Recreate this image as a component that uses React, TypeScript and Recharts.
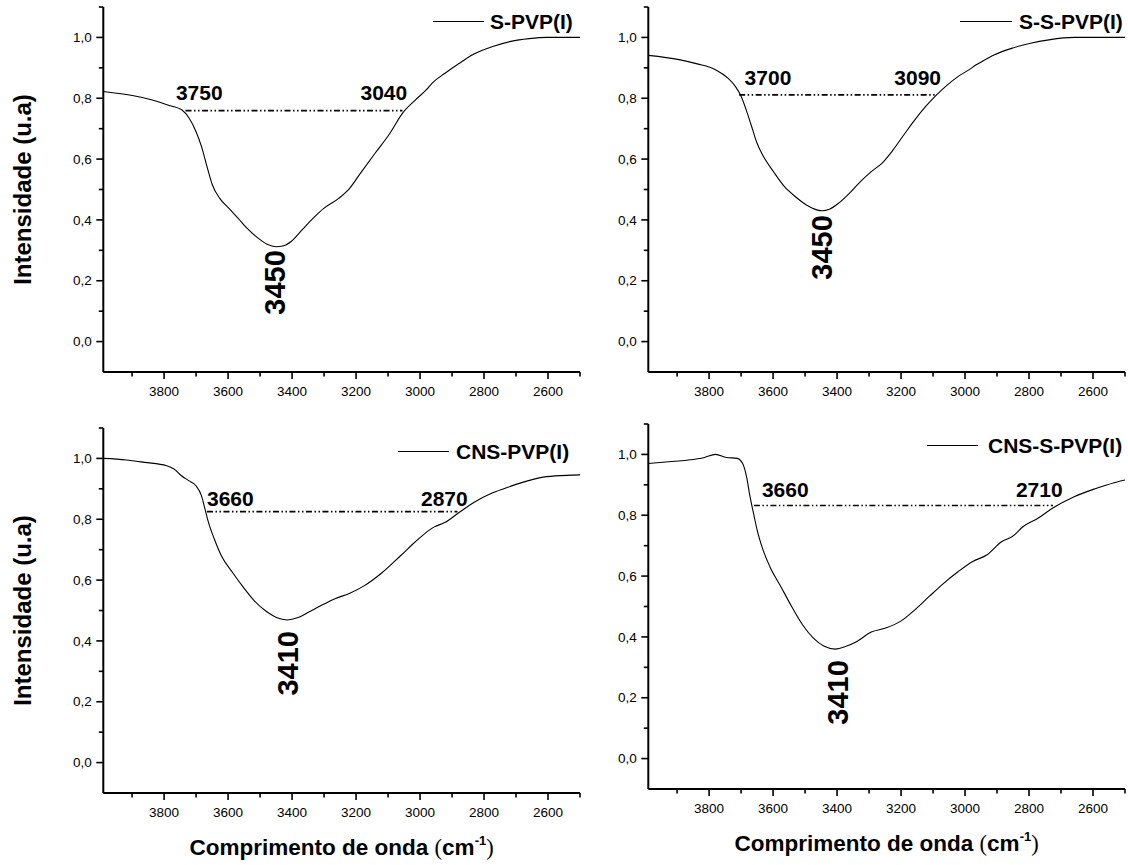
import React from 'react';
import { LineChart, Line, XAxis, YAxis, ReferenceLine, ReferenceDot, Legend } from 'recharts';

const FONT = '"Liberation Sans", Arial, Helvetica, sans-serif';
const SERIF = '"Liberation Serif", "Times New Roman", serif';

// axis ticks
const xTicks = [3900, 3800, 3700, 3600, 3500, 3400, 3300, 3200, 3100, 3000, 2900, 2800, 2700, 2600, 2500];
const yTicks = [0, 0.1, 0.2, 0.3, 0.4, 0.5, 0.6, 0.7, 0.8, 0.9, 1.0, 1.1];
const xDomain = [2500, 3990];
const yDomain = [-0.1, 1.1];

// S-PVP(I)
const sPvpX = [3990, 3895, 3840, 3780, 3745, 3722, 3700, 3683, 3666, 3649, 3626, 3598, 3569, 3541, 3506, 3478, 3450, 3426, 3403, 3369, 3334, 3300, 3254, 3220, 3186, 3140, 3094, 3054, 3014, 2980, 2962, 2922, 2877, 2830, 2773, 2716, 2659, 2602, 2500];
const sPvpY = [0.822, 0.808, 0.795, 0.775, 0.762, 0.735, 0.69, 0.641, 0.576, 0.515, 0.471, 0.439, 0.406, 0.373, 0.34, 0.32, 0.312, 0.315, 0.329, 0.367, 0.406, 0.439, 0.471, 0.504, 0.554, 0.62, 0.685, 0.752, 0.795, 0.828, 0.85, 0.882, 0.915, 0.946, 0.97, 0.987, 0.996, 1.0, 1.0];

// S-S-PVP(I)
const ssPvpX = [3990, 3894, 3837, 3780, 3741, 3718, 3701, 3684, 3667, 3650, 3633, 3599, 3565, 3531, 3497, 3463, 3446, 3424, 3395, 3361, 3327, 3293, 3259, 3225, 3191, 3157, 3123, 3089, 3055, 3021, 2987, 2965, 2955, 2908, 2851, 2795, 2738, 2659, 2500];
const ssPvpY = [0.941, 0.927, 0.913, 0.894, 0.866, 0.839, 0.809, 0.762, 0.707, 0.652, 0.614, 0.559, 0.51, 0.477, 0.45, 0.433, 0.43, 0.435, 0.455, 0.488, 0.526, 0.559, 0.587, 0.63, 0.68, 0.729, 0.773, 0.811, 0.844, 0.872, 0.894, 0.91, 0.916, 0.943, 0.965, 0.981, 0.992, 1.0, 1.0];

// CNS-PVP(I)
const cnsPvpX = [3990, 3918, 3861, 3792, 3769, 3746, 3723, 3701, 3683, 3672, 3661, 3643, 3621, 3586, 3552, 3518, 3483, 3449, 3415, 3381, 3346, 3312, 3266, 3221, 3175, 3118, 3061, 3005, 2970, 2955, 2923, 2878, 2832, 2775, 2718, 2661, 2604, 2525, 2500];
const cnsPvpY = [1.0, 0.995, 0.987, 0.976, 0.965, 0.943, 0.927, 0.911, 0.877, 0.833, 0.789, 0.735, 0.68, 0.625, 0.576, 0.532, 0.499, 0.477, 0.469, 0.477, 0.496, 0.515, 0.539, 0.556, 0.581, 0.625, 0.68, 0.735, 0.765, 0.775, 0.789, 0.822, 0.855, 0.886, 0.908, 0.927, 0.94, 0.945, 0.946];

// CNS-S-PVP(I)
const cnsSPvpX = [3990, 3927, 3870, 3814, 3780, 3746, 3712, 3695, 3683, 3672, 3661, 3650, 3633, 3610, 3576, 3542, 3508, 3474, 3440, 3406, 3372, 3338, 3293, 3248, 3202, 3157, 3112, 3066, 3021, 2976, 2931, 2886, 2852, 2818, 2772, 2727, 2659, 2591, 2534, 2500];
const cnsSPvpY = [0.97, 0.976, 0.981, 0.99, 1.0, 0.99, 0.987, 0.97, 0.927, 0.861, 0.806, 0.752, 0.691, 0.631, 0.566, 0.5, 0.44, 0.396, 0.369, 0.36, 0.369, 0.385, 0.416, 0.429, 0.451, 0.489, 0.533, 0.577, 0.615, 0.648, 0.67, 0.713, 0.73, 0.763, 0.79, 0.823, 0.861, 0.888, 0.907, 0.916];

// band annotations (wavenumber limits, level) and peak labels
const sPvpBand = { from: 3733, to: 3055, level: 0.759, left: '3750', leftAt: [3763, 0.795], right: '3040', rightAt: [3040, 0.795] };
const ssPvpBand = { from: 3706, to: 3089, level: 0.811, left: '3700', leftAt: [3689, 0.844], right: '3090', rightAt: [3075, 0.844] };
const cnsPvpBand = { from: 3666, to: 2883, level: 0.825, left: '3660', leftAt: [3666, 0.842], right: '2870', rightAt: [2851, 0.842] };
const cnsSPvpBand = { from: 3660, to: 2725, level: 0.832, left: '3660', leftAt: [3635, 0.859], right: '2710', rightAt: [2695, 0.859] };

const sPvpPeak = { text: '3450', x: 3455, y: 0.307 };
const ssPvpPeak = { text: '3450', x: 3449, y: 0.422 };
const cnsPvpPeak = { text: '3410', x: 3415, y: 0.439 };
const cnsSPvpPeak = { text: '3410', x: 3400, y: 0.33 };

const panels = [
  { id: 'tl', name: 'S-PVP(I)', xs: sPvpX, ys: sPvpY, band: sPvpBand, peak: sPvpPeak,
    ox: 0, oy: 0, w: 590, h: 410, mt: 7, yw: 103.3, xh: 38, yTitle: true, xTitle: false,
    legend: { x1: 433, x2: 484, tx: 490, base: 29 } },
  { id: 'tr', name: 'S-S-PVP(I)', xs: ssPvpX, ys: ssPvpY, band: ssPvpBand, peak: ssPvpPeak,
    ox: 590, oy: 0, w: 538, h: 410, mt: 7, yw: 58.3, xh: 38, yTitle: false, xTitle: false,
    legend: { x1: 960, x2: 1012, tx: 1019, base: 29 } },
  { id: 'bl', name: 'CNS-PVP(I)', xs: cnsPvpX, ys: cnsPvpY, band: cnsPvpBand, peak: cnsPvpPeak,
    ox: 0, oy: 410, w: 590, h: 455, mt: 18, yw: 103.3, xh: 72, yTitle: true, xTitle: true,
    legend: { x1: 398, x2: 449, tx: 456, base: 459 } },
  { id: 'br', name: 'CNS-S-PVP(I)', xs: cnsSPvpX, ys: cnsSPvpY, band: cnsSPvpBand, peak: cnsSPvpPeak,
    ox: 590, oy: 410, w: 538, h: 455, mt: 14, yw: 58.3, xh: 76, yTitle: false, xTitle: true,
    legend: { x1: 927, x2: 978, tx: 988, base: 453 } },
];

const fmtY = (v: number) => v.toFixed(1).replace('.', ',');

const XTick = (p: any) => {
  const { x, y, payload } = p;
  const v = Math.round(payload.value);
  const major = v % 200 === 0;
  return (
    <g>
      <line x1={x} x2={x} y1={y} y2={y + (major ? 7 : 4.5)} stroke="#000" strokeWidth={1.6} />
      {major && (
        <text x={x} y={y + 24} textAnchor="middle" fontFamily={FONT} fontSize={13.5} fill="#000">{v}</text>
      )}
    </g>
  );
};

const YTick = (p: any) => {
  const { x, y, payload } = p;
  const v = payload.value;
  const major = Math.round(v * 10) % 2 === 0;
  return (
    <g>
      <line x1={x} x2={x - (major ? 7 : 4.5)} y1={y} y2={y} stroke="#000" strokeWidth={1.6} />
      {major && (
        <text x={x - 11.5} y={y} dy="0.35em" textAnchor="end" fontFamily={FONT} fontSize={13.5} fill="#000">{fmtY(v)}</text>
      )}
    </g>
  );
};

const YTitle = (p: any) => {
  const vb = p.viewBox || { x: 0, y: 0, width: 0, height: 0 };
  const cx = vb.x + 22;
  const cy = vb.y + vb.height / 2;
  return (
    <text x={cx} y={cy} transform={`rotate(-90, ${cx}, ${cy})`} textAnchor="middle" dominantBaseline="central"
      fontFamily={FONT} fontWeight="bold" fontSize={24} fill="#000">Intensidade (u.a)</text>
  );
};

const XTitle = (p: any) => {
  const vb = p.viewBox || { x: 0, y: 0, width: 0, height: 0 };
  const cx = vb.x + vb.width / 2;
  const by = vb.y + 62;
  return (
    <text x={cx} y={by} textAnchor="middle" fontFamily={FONT} fontWeight="bold" fontSize={22.5} fill="#000">
      <tspan>Comprimento de onda </tspan>
      <tspan fontFamily={SERIF} fontWeight="normal">(</tspan>
      <tspan>cm</tspan>
      <tspan fontSize={13} dy={-10}>-1</tspan>
      <tspan fontFamily={SERIF} fontWeight="normal" dy={10}>)</tspan>
    </text>
  );
};

const hLabel = (text: string, anchor: string) => (p: any) => {
  const vb = p.viewBox || { x: 0, y: 0 };
  return (
    <text x={vb.x} y={vb.y} textAnchor={anchor} fontFamily={FONT} fontWeight="bold" fontSize={21} fill="#000">{text}</text>
  );
};

const peakLabel = (text: string) => (p: any) => {
  const vb = p.viewBox || { x: 0, y: 0 };
  const px = vb.x + 10.5;
  const py = vb.y + 2;
  return (
    <text x={px} y={py} transform={`rotate(-90, ${px}, ${py})`} textAnchor="end" fontFamily={FONT} fontWeight="bold" fontSize={29} fill="#000">{text}</text>
  );
};

function Panel({ cfg }: { cfg: any }) {
  const data = cfg.xs.map((x: number, i: number) => ({ x, y: cfg.ys[i] }));
  const lg = cfg.legend;
  const lgLeft = lg.x1 - cfg.ox - 2;
  const lgTop = lg.base - 26 - cfg.oy;
  const mr = cfg.w - cfg.yw - 476.7;
  return (
    <div style={{ position: 'absolute', left: cfg.ox, top: cfg.oy }}>
      <LineChart width={cfg.w} height={cfg.h} data={data} margin={{ top: cfg.mt, right: mr, left: 0, bottom: 0 }}>
        <XAxis
          type="number" dataKey="x" domain={xDomain} reversed allowDataOverflow
          ticks={xTicks} interval={0} tick={(p: any) => <XTick {...p} />} tickLine={false}
          tickSize={0} tickMargin={0} height={cfg.xh}
          axisLine={{ stroke: '#000', strokeWidth: 2 }}
          label={cfg.xTitle ? XTitle : undefined}
        />
        <YAxis
          type="number" domain={yDomain} allowDataOverflow ticks={yTicks} interval={0}
          width={cfg.yw} tick={(p: any) => <YTick {...p} />} tickLine={false} tickSize={0} tickMargin={0}
          axisLine={{ stroke: '#000', strokeWidth: 2 }}
          label={cfg.yTitle ? YTitle : undefined}
        />
        <Line type="monotone" dataKey="y" name={cfg.name} stroke="#000" strokeWidth={1.1} dot={false} isAnimationActive={false} />
        <ReferenceLine
          segment={[{ x: cfg.band.from, y: cfg.band.level }, { x: cfg.band.to, y: cfg.band.level }]}
          stroke="#000" strokeWidth={1.7} strokeDasharray="6 2.5 1.5 2.5 1.5 2.5"
        />
        <ReferenceDot x={cfg.band.leftAt[0]} y={cfg.band.leftAt[1]} r={0} fill="none" stroke="none" label={hLabel(cfg.band.left, 'start')} />
        <ReferenceDot x={cfg.band.rightAt[0]} y={cfg.band.rightAt[1]} r={0} fill="none" stroke="none" label={hLabel(cfg.band.right, 'end')} />
        <ReferenceDot x={cfg.peak.x} y={cfg.peak.y} r={0} fill="none" stroke="none" label={peakLabel(cfg.peak.text)} />
        <Legend
          layout="horizontal" verticalAlign="middle" align="center"
          wrapperStyle={{ left: lgLeft, top: lgTop, width: 200, height: 32, margin: 0, padding: 0 }}
          content={() => (
            <svg width={200} height={32} style={{ display: 'block' }}>
              <line x1={2} x2={2 + lg.x2 - lg.x1} y1={26 - 7.5} y2={26 - 7.5} stroke="#000" strokeWidth={1.1} />
              <text x={2 + lg.tx - lg.x1} y={26} fontFamily={FONT} fontWeight="bold" fontSize={21} fill="#000">{cfg.name}</text>
            </svg>
          )}
        />
      </LineChart>
    </div>
  );
}

export default function App() {
  return (
    <div style={{ position: 'absolute', left: 0, top: 0, width: 1128, height: 865, background: '#fff' }}>
      {panels.map((c) => <Panel key={c.id} cfg={c} />)}
    </div>
  );
}
